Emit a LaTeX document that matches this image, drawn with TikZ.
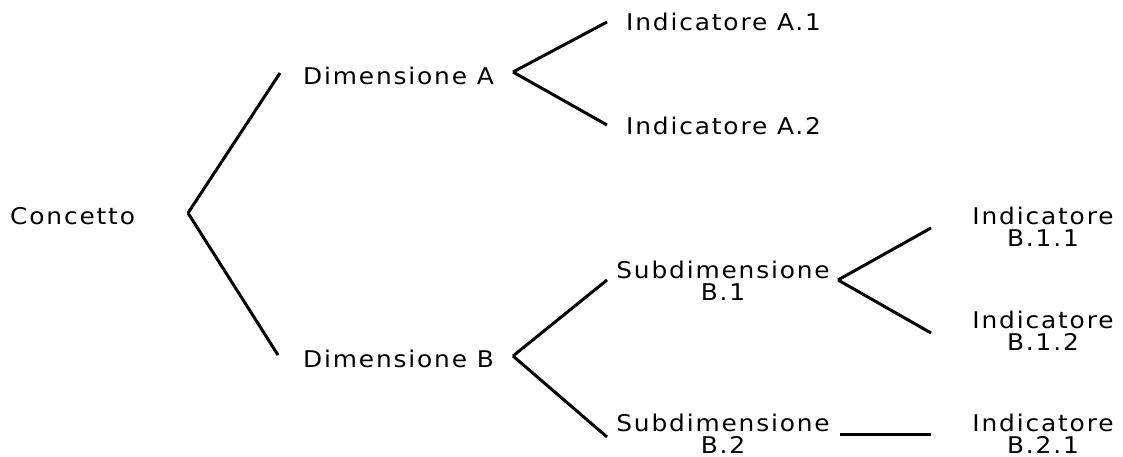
\documentclass[tikz,border=0pt]{standalone}
\usepackage{fontspec}
\setmainfont[LetterSpace=8,FakeStretch=1.08]{DejaVu Sans}
\usepackage{tikz}

\begin{document}
\begin{tikzpicture}[x=1pt,y=-1pt,
		voce/.style={inner sep=0pt,align=center,font=\fontsize{23}{22}\selectfont},
		ramo/.style={line width=3pt}]
				\useasboundingbox (0,0) rectangle (1123,457);
				
				%Testi
				\node[voce,anchor=west] (conc) at (10,216) {Concetto};
				\node[voce,anchor=west] (dimA) at (303,76) {Dimensione A};
				\node[voce,anchor=west] (dimB) at (303,359) {Dimensione B};
				\node[voce,anchor=west] (indA1) at (626,22) {Indicatore A.1};
				\node[voce,anchor=west] (indA2) at (626,126) {Indicatore A.2};
				\node[voce] (subB1) at (723,281) {Subdimensione\\B.1};
				\node[voce] (subB2) at (723,434) {Subdimensione\\B.2};
				\node[voce] (indB11) at (1043,227) {Indicatore\\B.1.1};
				\node[voce] (indB12) at (1043,331) {Indicatore\\B.1.2};
				\node[voce] (indB21) at (1043,434) {Indicatore\\B.2.1};
				
				%Punti di attacco
				\foreach \n/\x/\y in
					{conc-r/188/213,dimA-l/280/73,dimB-l/278/355,dimA-r/513/72,dimB-r/513/356,
					 indA1-l/607/22,indA2-l/607/125,subB1-l/607/280,subB2-l/607/437,
					 subB1-r/838/280,subB2-r/840/434,indB11-l/931/228,indB12-l/931/333,indB21-l/931/434}
						\coordinate (\n) at (\x,\y);
				
				%Rami
				\foreach \a/\b in
					{conc-r/dimA-l,conc-r/dimB-l,dimA-r/indA1-l,dimA-r/indA2-l,dimB-r/subB1-l,
					 dimB-r/subB2-l,subB1-r/indB11-l,subB1-r/indB12-l,subB2-r/indB21-l}
					\draw[ramo] (\a) -- (\b);
	\end{tikzpicture}
\end{document}
